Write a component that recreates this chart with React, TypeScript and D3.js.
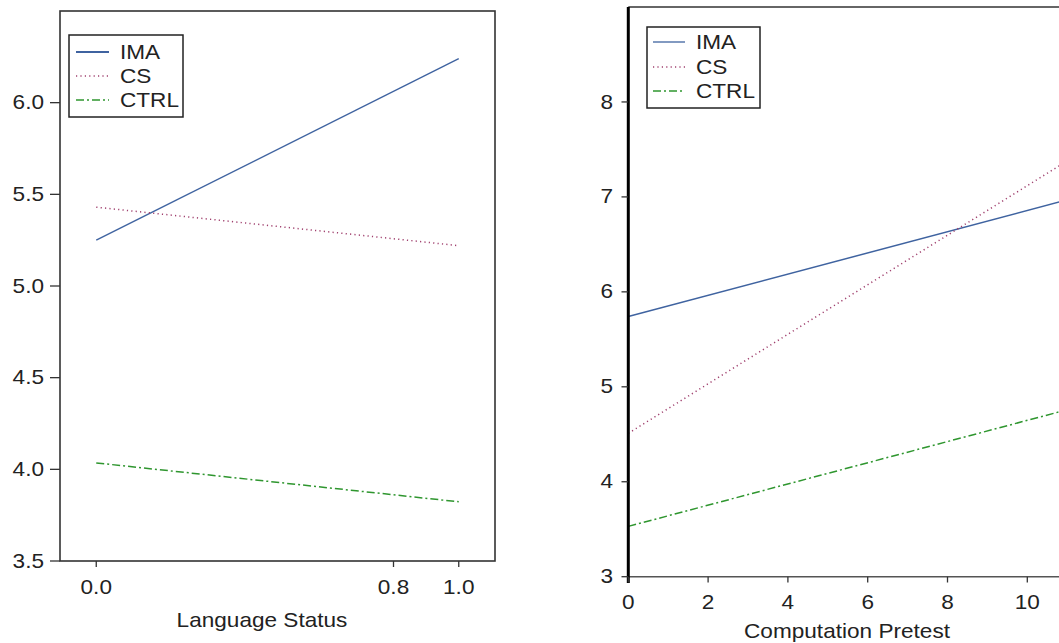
import React from "react";
import * as d3 from "d3";

// ---- Data ----
const seriesNames = ["IMA", "CS", "CTRL"];

// Left panel: Language Status (0..1)
const langX = [0, 1];
const langIMA = [5.25, 6.24];
const langCS = [5.43, 5.22];
const langCTRL = [4.035, 3.823];
const langXTicks = [0, 0.82, 1.0];
const langYTicks = [3.5, 4.0, 4.5, 5.0, 5.5, 6.0];

// Right panel: Computation Pretest (0..12)
const compX = [0, 12];
const compIMA = [5.74, 7.08];
const compCS = [4.51, 7.64];
const compCTRL = [3.53, 4.87];
const compXTicks = [0, 2, 4, 6, 8, 10];
const compYTicks = [3, 4, 5, 6, 7, 8];

const COLORS: Record<string, string> = { IMA: "#3f63a0", CS: "#a0406e", CTRL: "#2f962f" };
const DASH: Record<string, string | undefined> = { IMA: undefined, CS: "1.2,3.2", CTRL: "8,3,2,3" };

const FONT = "'Liberation Sans', Arial, Helvetica, sans-serif";
const SX = 1.13;

function T({ x, y, anchor = "start", size = 20, children }: any) {
  return (
    <text
      transform={`translate(${x},${y}) scale(${SX},1)`}
      textAnchor={anchor}
      dominantBaseline="central"
      fontFamily={FONT}
      fontSize={size}
      fill="#222"
    >
      {children}
    </text>
  );
}

function Legend({ x, y, w, h, rowY, lineX0, lineX1, textX, imaW }: any) {
  return (
    <g>
      <rect x={x} y={y} width={w} height={h} fill="white" stroke="#222" strokeWidth={1.5} />
      {seriesNames.map((s, i) => (
        <g key={s}>
          <line
            x1={lineX0}
            x2={lineX1}
            y1={rowY[i]}
            y2={rowY[i]}
            stroke={COLORS[s]}
            strokeWidth={s === "IMA" ? imaW : 1.3}
            strokeDasharray={DASH[s]}
          />
          <T x={textX} y={rowY[i]} size={20}>{s}</T>
        </g>
      ))}
    </g>
  );
}

export default function App() {
  // Left panel scales
  const lx = d3.scaleLinear().domain([-0.1, 1.1]).range([60, 495]);
  const ly = d3.scaleLinear().domain([3.5, 6.5]).range([561, 11]);
  // Right panel scales
  const rx = d3.scaleLinear().domain([0, 12]).range([628.3, 628.3 + 12 * 39.9]);
  const ry = d3.scaleLinear().domain([3, 9]).range([576.7, 7]);

  const fmt1 = d3.format(".1f");

  const lLine = d3.line<[number, number]>().x((d) => lx(d[0])).y((d) => ly(d[1]));
  const rLine = d3.line<[number, number]>().x((d) => rx(d[0])).y((d) => ry(d[1]));

  const leftSeries: Record<string, number[]> = { IMA: langIMA, CS: langCS, CTRL: langCTRL };
  const rightSeries: Record<string, number[]> = { IMA: compIMA, CS: compCS, CTRL: compCTRL };

  return (
    <svg
      width={1059}
      height={643}
      style={{ position: "absolute", left: 0, top: 0, background: "white" }}
    >
      <rect x={0} y={0} width={1059} height={643} fill="white" />

      {/* ---------- Left panel ---------- */}
      <g>
        {seriesNames.map((s) => (
          <path
            key={s}
            d={lLine(langX.map((x, i) => [x, leftSeries[s][i]]) as [number, number][]) || ""}
            fill="none"
            stroke={COLORS[s]}
            strokeWidth={s === "IMA" ? 1.4 : 1.5}
            strokeDasharray={DASH[s]}
          />
        ))}
        <rect x={60} y={11} width={435} height={550} fill="none" stroke="#333" strokeWidth={1.6} />
        {langYTicks.map((t) => (
          <g key={t}>
            <line x1={50} x2={60} y1={ly(t)} y2={ly(t)} stroke="#333" strokeWidth={1.3} />
            <T x={44} y={ly(t)} anchor="end">{fmt1(t)}</T>
          </g>
        ))}
        {langXTicks.map((t) => (
          <g key={t}>
            <line x1={lx(t)} x2={lx(t)} y1={561} y2={567} stroke="#333" strokeWidth={1.3} />
            <T x={lx(t)} y={587} anchor="middle">{fmt1(t)}</T>
          </g>
        ))}
        <T x={262} y={620} anchor="middle">Language Status</T>
        <Legend
          x={69}
          y={35}
          w={114}
          h={82}
          rowY={[52, 76, 100]}
          lineX0={76}
          lineX1={109}
          textX={120}
          imaW={2.2}
        />
      </g>

      {/* ---------- Right panel ---------- */}
      <g>
        {seriesNames.map((s) => (
          <path
            key={s}
            d={rLine(compX.map((x, i) => [x, rightSeries[s][i]]) as [number, number][]) || ""}
            fill="none"
            stroke={COLORS[s]}
            strokeWidth={s === "IMA" ? 1.5 : 1.5}
            strokeDasharray={DASH[s]}
          />
        ))}
        <line x1={628.3} x2={1059} y1={7} y2={7} stroke="#333" strokeWidth={1.3} />
        <line x1={628.3} x2={1059} y1={576.7} y2={576.7} stroke="#555" strokeWidth={1.6} />
        <line x1={628.3} x2={628.3} y1={7} y2={583} stroke="#000" strokeWidth={3} />
        {compYTicks.map((t) => (
          <g key={t}>
            <line x1={621.5} x2={628} y1={ry(t)} y2={ry(t)} stroke="#333" strokeWidth={1.3} />
            <T x={613} y={ry(t)} anchor="end">{String(t)}</T>
          </g>
        ))}
        {compXTicks.map((t) => (
          <g key={t}>
            <line x1={rx(t)} x2={rx(t)} y1={576.7} y2={582.5} stroke="#333" strokeWidth={1.3} />
            <T x={rx(t)} y={602} anchor="middle">{String(t)}</T>
          </g>
        ))}
        <T x={847} y={631} anchor="middle">Computation Pretest</T>
        <Legend
          x={647}
          y={27}
          w={113}
          h={81}
          rowY={[42, 67, 91]}
          lineX0={653}
          lineX1={685}
          textX={696}
          imaW={1.3}
        />
      </g>
    </svg>
  );
}
